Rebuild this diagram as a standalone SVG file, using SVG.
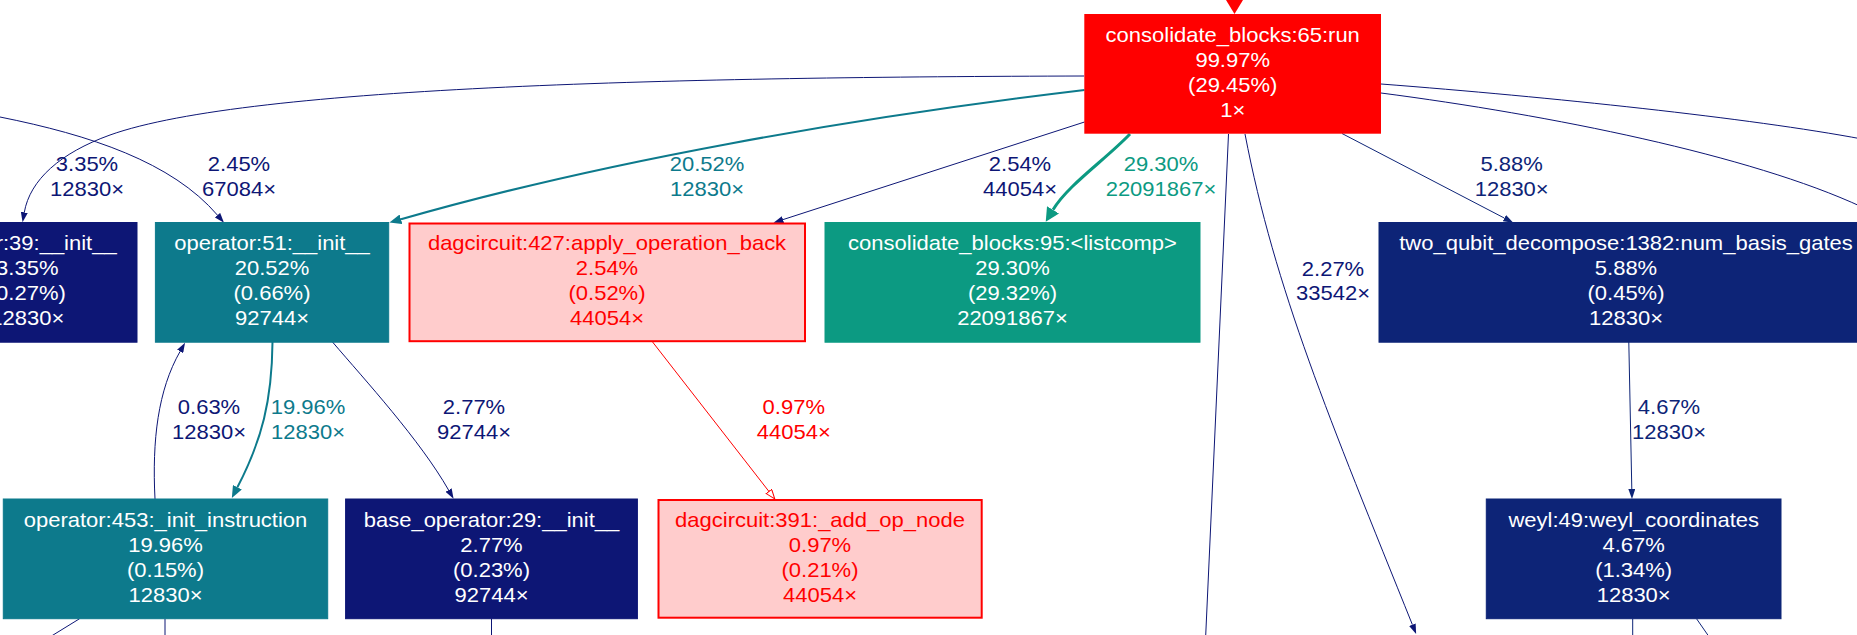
<svg xmlns="http://www.w3.org/2000/svg" width="1857" height="635" viewBox="0 0 1857 635">
<style>
text{font-family:"Liberation Sans",Arial,sans-serif;font-size:20px;text-anchor:middle}
.w{fill:#ffffff}
.r{fill:#ff0000}
.ln{fill:none;stroke-width:1}
.nv{stroke:#0d1675}
.nv2{stroke:#0d2477}
.tl{stroke:#0d7a8c;stroke-width:2}
.gr{stroke:#0c9a82;stroke-width:3}
.rd{stroke:#ff0000}
.lnv{fill:#0d1675}
.lnv2{fill:#0d2477}
.ltl{fill:#0d7a8c}
.lgr{fill:#0c9a82}
</style>
<defs>
<marker id="aNv" markerUnits="userSpaceOnUse" markerWidth="10" markerHeight="7" refX="0" refY="3.5" orient="auto"><path d="M0,0 L10,3.5 L0,7 z" fill="#0d1675"/></marker>
<marker id="aNv2" markerUnits="userSpaceOnUse" markerWidth="10" markerHeight="7" refX="0" refY="3.5" orient="auto"><path d="M0,0 L10,3.5 L0,7 z" fill="#0d2477"/></marker>
<marker id="aTl" markerUnits="userSpaceOnUse" markerWidth="12" markerHeight="10" refX="0" refY="5" orient="auto"><path d="M0,0 L12,5 L0,10 z" fill="#0d7a8c"/></marker>
<marker id="aGr" markerUnits="userSpaceOnUse" markerWidth="14" markerHeight="14" refX="0" refY="7" orient="auto"><path d="M0,0 L14,7 L0,14 z" fill="#0c9a82"/></marker>
<marker id="aRd" markerUnits="userSpaceOnUse" markerWidth="11" markerHeight="8" refX="0.5" refY="4" orient="auto"><path d="M0.5,0.5 L10,4 L0.5,7.5 z" fill="#ffffff" stroke="#ff0000" stroke-width="1"/></marker>
</defs>
<rect x="0" y="0" width="1857" height="635" fill="#ffffff"/>

<g id="connectors">
<polygon points="1226,0 1243,0 1234.5,14" fill="#ff0000"/>
<path class="ln nv" d="M1084,76 C700,77 250,85 110,135 C60,153 30,180 24.3,212.3" marker-end="url(#aNv)"/>
<path class="ln nv" d="M0,117 C90,135 172,162 217.5,215.2" marker-end="url(#aNv)"/>
<path class="ln tl" d="M1084.5,90 C850,118 600,162 401,219.3" marker-end="url(#aTl)"/>
<path class="ln nv" d="M1084.5,122 L783,219.6" marker-end="url(#aNv)"/>
<path class="ln gr" d="M1130,134 C1105,160 1068,185 1053,209.8" marker-end="url(#aGr)"/>
<path class="ln nv" d="M1228.5,134 L1205.5,640"/>
<path class="ln nv" d="M1245,134 C1275,290 1330,420 1412.4,624.7" marker-end="url(#aNv)"/>
<path class="ln nv2" d="M1342,133.5 L1504.4,218.1" marker-end="url(#aNv2)"/>
<path class="ln nv" d="M1381,84 C1550,97 1750,118 1862,139"/>
<path class="ln nv" d="M1381,93 C1550,115 1750,155 1862,207"/>
<path class="ln tl" d="M272.5,342 C272,400 262,440 237.4,487.3" marker-end="url(#aTl)"/>
<path class="ln nv" d="M155,499 C152,440 158,390 180.1,351.4" marker-end="url(#aNv)"/>
<path class="ln nv" d="M332.5,342 C365,380 420,440 448.6,490.1" marker-end="url(#aNv)"/>
<path class="ln rd" d="M652.6,342 L768.9,491.4" marker-end="url(#aRd)"/>
<path class="ln nv2" d="M1628.8,342 L1631.8,489" marker-end="url(#aNv2)"/>
<path class="ln nv" d="M79.6,618.7 L45,640"/>
<path class="ln nv" d="M165,618.7 V640"/>
<path class="ln nv" d="M491.5,618.7 V640"/>
<path class="ln nv2" d="M1632.7,618.7 V640"/>
<path class="ln nv2" d="M1696.5,618.7 L1712,641"/>

<g transform="translate(87 0) scale(1.1 1)" class="lnv"><text x="0" y="171.5">3.35%</text><text x="0" y="196.5">12830×</text></g>
<g transform="translate(239 0) scale(1.1 1)" class="lnv"><text x="0" y="171.5">2.45%</text><text x="0" y="196.5">67084×</text></g>
<g transform="translate(707 0) scale(1.1 1)" class="ltl"><text x="0" y="171.5">20.52%</text><text x="0" y="196.5">12830×</text></g>
<g transform="translate(1020 0) scale(1.1 1)" class="lnv"><text x="0" y="171.5">2.54%</text><text x="0" y="196.5">44054×</text></g>
<g transform="translate(1161 0) scale(1.1 1)" class="lgr"><text x="0" y="171.5">29.30%</text><text x="0" y="196.5">22091867×</text></g>
<g transform="translate(1511.7 0) scale(1.1 1)" class="lnv2"><text x="0" y="171.5">5.88%</text><text x="0" y="196.5">12830×</text></g>
<g transform="translate(1333 0) scale(1.1 1)" class="lnv"><text x="0" y="276">2.27%</text><text x="0" y="300.5">33542×</text></g>
<g transform="translate(209 0) scale(1.1 1)" class="lnv"><text x="0" y="414">0.63%</text><text x="0" y="439">12830×</text></g>
<g transform="translate(308 0) scale(1.1 1)" class="ltl"><text x="0" y="414">19.96%</text><text x="0" y="439">12830×</text></g>
<g transform="translate(474 0) scale(1.1 1)" class="lnv"><text x="0" y="414">2.77%</text><text x="0" y="439">92744×</text></g>
<g transform="translate(793.8 0) scale(1.1 1)" class="r"><text x="0" y="414">0.97%</text><text x="0" y="439">44054×</text></g>
<g transform="translate(1669 0) scale(1.1 1)" class="lnv2"><text x="0" y="414">4.67%</text><text x="0" y="439">12830×</text></g>
</g>

<g id="node-run">
<rect x="1084.3" y="14" width="296.7" height="119.7" fill="#ff0000"/>
<g transform="translate(1232.7 0) scale(1.1 1)" class="w"><text x="0" y="41.7">consolidate_blocks:65:run</text><text x="0" y="66.7">99.97%</text><text x="0" y="91.7">(29.45%)</text><text x="0" y="116.7">1×</text></g>
</g>

<g id="node-init39">
<rect x="-10" y="222.5" width="147" height="119.7" fill="#0d1675" stroke="#0d1675"/>
<g transform="translate(116.7 0) scale(1.1 1)" class="w"><text x="0" y="250.2" style="text-anchor:end">r:39:__init__</text></g>
<g transform="translate(27.3 0) scale(1.1 1)" class="w"><text x="0" y="275.2">3.35%</text><text x="0" y="300.2">(0.27%)</text><text x="0" y="325.2">12830×</text></g>
</g>

<g id="node-op51">
<rect x="155.4" y="222.5" width="233.3" height="119.7" fill="#0d7a8c" stroke="#0d7a8c"/>
<g transform="translate(272 0) scale(1.1 1)" class="w"><text x="0" y="250.2">operator:51:__init__</text><text x="0" y="275.2">20.52%</text><text x="0" y="300.2">(0.66%)</text><text x="0" y="325.2">92744×</text></g>
</g>

<g id="node-apply">
<rect x="409.5" y="223.5" width="395.5" height="117.7" fill="#ffcccc" stroke="#ff0000" stroke-width="2"/>
<g transform="translate(607 0) scale(1.1 1)" class="r"><text x="0" y="250.2">dagcircuit:427:apply_operation_back</text><text x="0" y="275.2">2.54%</text><text x="0" y="300.2">(0.52%)</text><text x="0" y="325.2">44054×</text></g>
</g>

<g id="node-listcomp">
<rect x="825" y="222.5" width="375" height="119.7" fill="#0c9a82" stroke="#0c9a82"/>
<g transform="translate(1012.5 0) scale(1.1 1)" class="w"><text x="0" y="250.2">consolidate_blocks:95:&lt;listcomp&gt;</text><text x="0" y="275.2">29.30%</text><text x="0" y="300.2">(29.32%)</text><text x="0" y="325.2">22091867×</text></g>
</g>

<g id="node-numbasis">
<rect x="1379" y="222.5" width="500" height="119.7" fill="#0d2477" stroke="#0d2477"/>
<g transform="translate(1626 0) scale(1.1 1)" class="w"><text x="0" y="250.2">two_qubit_decompose:1382:num_basis_gates</text><text x="0" y="275.2">5.88%</text><text x="0" y="300.2">(0.45%)</text><text x="0" y="325.2">12830×</text></g>
</g>

<g id="node-initinstr">
<rect x="3.3" y="499" width="324.4" height="119.7" fill="#0d7a8c" stroke="#0d7a8c"/>
<g transform="translate(165.5 0) scale(1.1 1)" class="w"><text x="0" y="526.7">operator:453:_init_instruction</text><text x="0" y="551.7">19.96%</text><text x="0" y="576.7">(0.15%)</text><text x="0" y="601.7">12830×</text></g>
</g>

<g id="node-baseop">
<rect x="345.6" y="499" width="291.8" height="119.7" fill="#0d1675" stroke="#0d1675"/>
<g transform="translate(491.5 0) scale(1.1 1)" class="w"><text x="0" y="526.7">base_operator:29:__init__</text><text x="0" y="551.7">2.77%</text><text x="0" y="576.7">(0.23%)</text><text x="0" y="601.7">92744×</text></g>
</g>

<g id="node-addop">
<rect x="658.5" y="500" width="323.2" height="117.7" fill="#ffcccc" stroke="#ff0000" stroke-width="2"/>
<g transform="translate(820 0) scale(1.1 1)" class="r"><text x="0" y="526.7">dagcircuit:391:_add_op_node</text><text x="0" y="551.7">0.97%</text><text x="0" y="576.7">(0.21%)</text><text x="0" y="601.7">44054×</text></g>
</g>

<g id="node-weyl">
<rect x="1486.3" y="499" width="294.7" height="119.7" fill="#0d2477" stroke="#0d2477"/>
<g transform="translate(1633.7 0) scale(1.1 1)" class="w"><text x="0" y="526.7">weyl:49:weyl_coordinates</text><text x="0" y="551.7">4.67%</text><text x="0" y="576.7">(1.34%)</text><text x="0" y="601.7">12830×</text></g>
</g>
</svg>
